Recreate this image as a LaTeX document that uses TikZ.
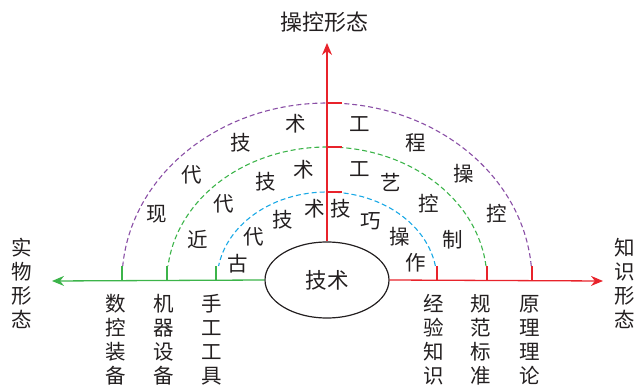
\documentclass[tikz,border=0pt]{standalone}
\usepackage{fontspec}
\newfontfamily\cjk{Noto Sans CJK SC}
\usetikzlibrary{arrows.meta,shapes.geometric}
\definecolor{axred}{HTML}{E8232B}
\definecolor{axgreen}{HTML}{3CB44A}
\definecolor{arcblue}{HTML}{1AA9E6}
\definecolor{arcgreen}{HTML}{3CB44A}
\definecolor{arcpurple}{HTML}{8A4FA6}
\definecolor{txt}{HTML}{231F20}
\begin{document}
\begin{tikzpicture}[x=1pt,y=1pt,
  ch/.style={font=\fontsize{20.5}{24}\selectfont\cjk, text=txt, inner sep=0pt},
  vlabel/.style={ch, align=center},
  redarrow/.style={draw=axred, line width=1.3pt, -{Stealth[length=12pt,width=10pt]}},
  greenarrow/.style={draw=axgreen, line width=1.3pt, -{Stealth[length=12pt,width=10pt]}},
  redtick/.style={draw=axred, line width=1.3pt},
  greentick/.style={draw=axgreen, line width=1.3pt},
  dasharc/.style={line width=1.1pt, dash pattern=on 5pt off 3pt},
  techbox/.style={ellipse, draw=txt, line width=1.2pt, minimum width=124pt, minimum height=76pt, inner sep=0pt, font=\fontsize{21.5}{24}\selectfont\cjk, text=txt}
]
\useasboundingbox (0,0) rectangle (638,-390);

\coordinate (O) at (327,-281);
\coordinate (L) at (52,-281);
\coordinate (R) at (603,-281);
\coordinate (T) at (327,-43);

% dashed arcs
\draw[dasharc, arcblue] ([shift={(9.7:110pt and 89pt)}]O) arc[start angle=9.7, end angle=170.3, x radius=110pt, y radius=89pt];
\draw[dasharc, arcgreen] ([shift={(6.4:160pt and 134pt)}]O) arc[start angle=6.4, end angle=173.6, x radius=160pt, y radius=134pt];
\draw[dasharc, arcpurple] ([shift={(4.8:205pt and 178pt)}]O) arc[start angle=4.8, end angle=175.2, x radius=205pt, y radius=178pt];

\node[techbox] (tech) at (327,-280) {技术};

% axes
\draw[greenarrow] (tech.west) -- (L);
\draw[redarrow] (tech.east) -- (R);
\draw[redarrow] (tech.north) -- (T);

% ticks
\foreach \x in {122,167,216} \draw[greentick] (\x,-281) -- ++(0,15);
\foreach \x in {437,487,532} \draw[redtick] (\x,-281) -- ++(0,15);
\foreach \y in {103,147,192} \draw[redtick] (327,-\y) -- ++(15,0);

% axis titles
\node[ch, font=\fontsize{22}{24}\selectfont\cjk] (top) at (324,-22) {操控形态};
\node[vlabel] (lt) at (22,-283) {实\\物\\形\\态};
\node[vlabel] (rt) at (625,-283) {知\\识\\形\\态};

% labels under axis
\node[vlabel] (l1) at (116,-340) {数\\控\\装\\备};
\node[vlabel] (l2) at (164,-340) {机\\器\\设\\备};
\node[vlabel] (l3) at (212,-340) {手\\工\\工\\具};
\node[vlabel] (r1) at (434,-340) {经\\验\\知\\识};
\node[vlabel] (r2) at (481,-340) {规\\范\\标\\准};
\node[vlabel] (r3) at (530,-340) {原\\理\\理\\论};

% outer ring
\node[ch] (p1) at (157,-214) {现};
\node[ch] (p2) at (192,-175) {代};
\node[ch] (p3) at (241,-143) {技};
\node[ch] (p4) at (296,-124) {术};
\node[ch] (p5) at (360,-124) {工};
\node[ch] (p6) at (416,-143) {程};
\node[ch] (p7) at (464,-174) {操};
\node[ch] (p8) at (497,-214) {控};

% middle ring
\node[ch] (g1) at (198,-240) {近};
\node[ch] (g2) at (224,-204) {代};
\node[ch] (g3) at (266,-182) {技};
\node[ch] (g4) at (304,-170) {术};
\node[ch] (g5) at (360,-169) {工};
\node[ch] (g6) at (391,-182) {艺};
\node[ch] (g7) at (429,-204) {控};
\node[ch] (g8) at (453,-240) {制};

% inner ring
\node[ch] (b1) at (238,-264) {古};
\node[ch] (b2) at (254,-237) {代};
\node[ch] (b3) at (283,-220) {技};
\node[ch] (b4) at (315,-209) {术};
\node[ch] (b5) at (341,-209) {技};
\node[ch] (b6) at (371,-221) {巧};
\node[ch] (b7) at (400,-237) {操};
\node[ch] (b8) at (416,-263) {作};
\end{tikzpicture}
\end{document}
